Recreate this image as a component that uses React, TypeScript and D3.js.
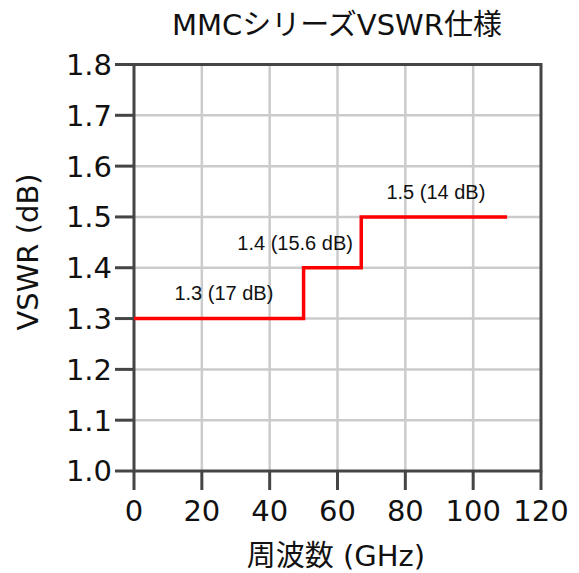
import React from 'react';
import * as d3 from 'd3';

// step spec: each segment [start GHz, end GHz, VSWR]
const segStart = [0, 50, 67];
const segEnd = [50, 67, 110];
const segVswr = [1.3, 1.4, 1.5];

const labelText = ['1.3 (17 dB)', '1.4 (15.6 dB)', '1.5 (14 dB)'];
const labelX = [26.5, 47.5, 89];
const labelY = [1.35, 1.45, 1.55];

const xTicks = [0, 20, 40, 60, 80, 100, 120];
const yTicks = [1.0, 1.1, 1.2, 1.3, 1.4, 1.5, 1.6, 1.7, 1.8];

const App: React.FC = () => {
  const width = 579;
  const height = 573;
  const left = 134;
  const right = 541;
  const top = 64.5;
  const bottom = 471;
  const font = "'DejaVu Sans', 'Noto Sans CJK JP', sans-serif";

  const x = d3.scaleLinear().domain([0, 120]).range([left, right]);
  const y = d3.scaleLinear().domain([1.0, 1.8]).range([bottom, top]);

  const stepPts: [number, number][] = [];
  segStart.forEach((s, i) => {
    stepPts.push([s, segVswr[i]]);
    stepPts.push([segEnd[i], segVswr[i]]);
  });
  const line = d3.line<[number, number]>().x(d => x(d[0])).y(d => y(d[1]));

  const axisColor = '#454545';
  const gridColor = '#cbcbcb';

  return (
    <>
      <style>{`body{margin:0}`}</style>
      <svg width={width} height={height} style={{ display: 'block', background: '#fff' }}>
        {/* grid */}
        {xTicks.slice(1, -1).map(t => (
          <line key={`gx${t}`} x1={x(t)} x2={x(t)} y1={top} y2={bottom} stroke={gridColor} strokeWidth={2.5} />
        ))}
        {yTicks.slice(1, -1).map(t => (
          <line key={`gy${t}`} x1={left} x2={right} y1={y(t)} y2={y(t)} stroke={gridColor} strokeWidth={2.5} />
        ))}

        {/* frame */}
        <rect x={left} y={top} width={right - left} height={bottom - top} fill="none" stroke={axisColor} strokeWidth={3} />

        {/* ticks */}
        {yTicks.map(t => (
          <g key={`ty${t}`}>
            <line x1={left - 19} x2={left} y1={y(t)} y2={y(t)} stroke={axisColor} strokeWidth={3} />
            <text x={left - 22} y={y(t)} dy="0.36em" textAnchor="end" fontFamily={font} fontSize={29} fill="#111">
              {t.toFixed(1)}
            </text>
          </g>
        ))}
        {xTicks.map(t => (
          <g key={`tx${t}`}>
            <line x1={x(t)} x2={x(t)} y1={bottom} y2={bottom + 19} stroke={axisColor} strokeWidth={3} />
            <text x={x(t)} y={bottom + 40} dy="0.36em" textAnchor="middle" fontFamily={font} fontSize={29} fill="#111">
              {t}
            </text>
          </g>
        ))}

        {/* data */}
        <path d={line(stepPts) || ''} fill="none" stroke="#ff0000" strokeWidth={3.5} />
        {labelText.map((s, i) => (
          <text key={s} x={x(labelX[i])} y={y(labelY[i])} dy="0.36em" textAnchor="middle"
            fontFamily="'Liberation Sans', Arial, sans-serif" fontSize={20} fill="#111">
            {s}
          </text>
        ))}

        {/* titles */}
        <text x={337} y={25} dy="0.36em" textAnchor="middle" fontFamily={font} fontSize={29} fill="#111">
          MMCシリーズVSWR仕様
        </text>
        <text x={336} y={556} dy="0.36em" textAnchor="middle" fontFamily={font} fontSize={29} fill="#111">
          周波数 (GHz)
        </text>
        <text transform={`translate(28, ${252}) rotate(-90)`} dy="0.36em" textAnchor="middle" fontFamily={font} fontSize={29} fill="#111">
          VSWR (dB)
        </text>
      </svg>
    </>
  );
};

export default App;
